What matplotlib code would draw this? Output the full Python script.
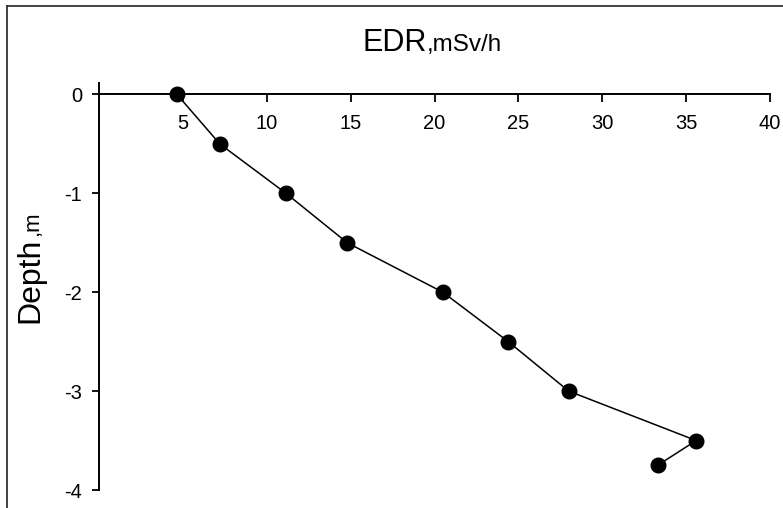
import matplotlib
matplotlib.use("Agg")
import matplotlib.pyplot as plt
from matplotlib.lines import Line2D

plt.rcParams['font.family'] = ['Liberation Sans', 'DejaVu Sans']

# EDR readings (mSv/h) against depth (m)
edr = [4.65, 7.2, 11.15, 14.8, 20.5, 24.4, 28.0, 35.6, 33.3]
depth = [0, -0.5, -1.0, -1.5, -2.0, -2.5, -3.0, -3.5, -3.75]
x_ticks = [5, 10, 15, 20, 25, 30, 35, 40]
y_ticks = [0, -1, -2, -3, -4]

W, H = 783, 508
fig = plt.figure(figsize=(W / 100, H / 100), dpi=100)
ax = fig.add_axes([99 / W, 1 - 490 / H, 671 / W, 407 / H])

ax.plot(edr, depth, color='black', lw=1.1, marker='o', ms=10.5,
        mfc='black', mec='black', clip_on=False, zorder=3)

ax.set_xlim(0, 40)
ax.set_ylim(-4, 0.116)

# axes cross at the origin, only left and bottom drawn
ax.spines['top'].set_visible(False)
ax.spines['right'].set_visible(False)
ax.spines['bottom'].set_position(('data', 0))
for s in ('left', 'bottom'):
    ax.spines[s].set_linewidth(1.4)

ax.set_xticks(x_ticks)
ax.set_yticks(y_ticks)
ax.set_yticklabels([str(v) for v in y_ticks])
ax.tick_params(axis='x', direction='out', length=6, width=1.3, pad=8,
               labelsize=14.5)
ax.tick_params(axis='y', direction='out', length=5, width=1.3, pad=7,
               labelsize=14.5)

# title with smaller unit part
fig.text(427 / W, 1 - 51 / H, "EDR", ha='right', va='baseline', fontsize=22)
fig.text(427 / W, 1 - 51 / H, ",mSv/h", ha='left', va='baseline', fontsize=17.5)

# y label with smaller unit part
fig.text(38 / W, 1 - 323 / H, "Depth", rotation=90, rotation_mode='anchor',
         ha='left', va='baseline', fontsize=23)
fig.text(38 / W, 1 - 235 / H, ",m", rotation=90, rotation_mode='anchor',
         ha='left', va='baseline', fontsize=16)

# frame around the picture (left and top edges)
fig.add_artist(Line2D([7 / W, 7 / W], [0, 1 - 6 / H], color='#333333', lw=1.3))
fig.add_artist(Line2D([7 / W, 1], [1 - 6 / H, 1 - 6 / H], color='#333333', lw=1.3))

fig.savefig('out.png', dpi=100)
